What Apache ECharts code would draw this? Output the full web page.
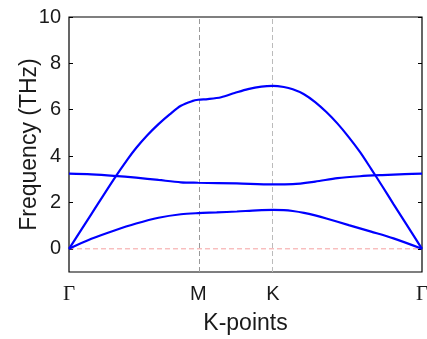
<!DOCTYPE html>
<html>
<head>
<meta charset="utf-8">
<script src="https://cdn.jsdelivr.net/npm/echarts@6/dist/echarts.min.js"></script>
<style>
  html, body { margin: 0; padding: 0; background: #fff; }
  #chart { width: 427px; height: 339px; }
</style>
</head>
<body>
<div id="chart"></div>
<script>
// High-symmetry points along the path
const tickLabels = ['Γ', 'M', 'K', 'Γ'];
const tickPos = [0, 0.5774, 0.9107, 1.5774];
const yTicks = [0, 2, 4, 6, 8, 10];

// Band 1 (lowest acoustic)
const band1K = [0, 0.1, 0.2, 0.3, 0.4, 0.5, 0.5774, 0.66, 0.75, 0.84, 0.9107, 0.96, 1.0, 1.05, 1.10, 1.15, 1.25, 1.35, 1.45, 1.5774];
const band1F = [0, 0.43, 0.78, 1.09, 1.34, 1.49, 1.54, 1.57, 1.61, 1.66, 1.68, 1.67, 1.63, 1.55, 1.44, 1.31, 1.02, 0.74, 0.45, 0];

// Band 2 (highest acoustic)
const band2K = [0, 0.1, 0.2, 0.26, 0.3, 0.35, 0.4, 0.45, 0.5, 0.55, 0.5774, 0.62, 0.68, 0.74, 0.80, 0.86, 0.9107, 0.96, 1.0, 1.05, 1.10, 1.15, 1.20, 1.25, 1.30, 1.35, 1.40, 1.45, 1.50, 1.5774];
const band2F = [0, 1.5, 3.0, 3.84, 4.35, 4.9, 5.38, 5.80, 6.17, 6.37, 6.43, 6.46, 6.54, 6.72, 6.89, 7.00, 7.03, 6.98, 6.88, 6.67, 6.33, 5.90, 5.40, 4.82, 4.18, 3.45, 2.70, 1.93, 1.17, 0];

// Band 3 (flat band)
const band3K = [0, 0.1, 0.2, 0.3, 0.4, 0.5, 0.5774, 0.75, 0.9107, 1.0, 1.1, 1.2, 1.3, 1.4, 1.5, 1.5774];
const band3F = [3.24, 3.21, 3.15, 3.07, 2.97, 2.87, 2.85, 2.82, 2.78, 2.79, 2.90, 3.05, 3.13, 3.18, 3.22, 3.24];

const zip = (a, b) => a.map((v, i) => [v, b[i]]);
const FONT = 'Liberation Sans';
const SERIF = 'Liberation Serif';

function band(name, k, f) {
  return {
    name, type: 'line', data: zip(k, f), showSymbol: false, smooth: 0.3,
    lineStyle: { color: '#0000ff', width: 2.2 }, itemStyle: { color: '#0000ff' }, z: 5, silent: true
  };
}
function vLine(x, color) {
  return {
    type: 'line', data: [], silent: true, z: 1,
    markLine: {
      silent: true, symbol: 'none', label: { show: false }, animation: false,
      lineStyle: { color: color, type: [5, 3], width: 1 },
      data: [{ xAxis: x }]
    }
  };
}

const chart = echarts.init(document.getElementById('chart'), null, { renderer: 'canvas' });
chart.setOption({
  animation: false,
  backgroundColor: '#ffffff',
  grid: {
    left: 69, right: 5, top: 17, bottom: 67, outerBoundsMode: 'none', containLabel: false,
    show: true, borderColor: '#000', borderWidth: 1.2, backgroundColor: 'transparent'
  },
  xAxis: {
    type: 'value', min: tickPos[0], max: tickPos[tickPos.length - 1],
    axisLine: { show: false }, axisTick: { show: false }, splitLine: { show: false },
    axisLabel: {
      customValues: tickPos, margin: 12, fontSize: 21, color: '#1a1a1a', fontFamily: SERIF,
      showMinLabel: true, showMaxLabel: true,
      formatter: function (v) {
        let best = 0;
        tickPos.forEach((p, i) => { if (Math.abs(p - v) < Math.abs(tickPos[best] - v)) best = i; });
        const t = tickLabels[best];
        return t === 'Γ' ? t : '{s|' + t + '}';
      },
      rich: { s: { fontFamily: FONT, fontSize: 20, color: '#1a1a1a' } }
    },
    name: 'K-points', nameLocation: 'middle', nameGap: 40, nameMoveOverlap: false,
    nameTextStyle: { fontSize: 23, color: '#1a1a1a', fontFamily: FONT }
  },
  yAxis: [{
    type: 'value', min: -1, max: 10, position: 'left',
    axisLine: { show: false },
    axisTick: { show: true, inside: true, length: 4, customValues: yTicks, lineStyle: { color: '#000', width: 1 } },
    axisLabel: { customValues: yTicks, fontSize: 20, color: '#1a1a1a', fontFamily: FONT, margin: 8 },
    splitLine: { show: false },
    name: 'Frequency (THz)', nameLocation: 'middle', nameGap: 28, nameRotate: 90, nameMoveOverlap: false,
    nameTextStyle: { fontSize: 23, color: '#1a1a1a', fontFamily: FONT }
  }, {
    type: 'value', min: -1, max: 10, position: 'right',
    axisLine: { show: false },
    axisTick: { show: true, inside: true, length: 4, customValues: yTicks, lineStyle: { color: '#000', width: 1 } },
    axisLabel: { show: false },
    splitLine: { show: false }
  }],
  series: [
    {
      name: 'zero', type: 'line', silent: true, z: 2, showSymbol: false,
      data: [[tickPos[0], 0], [tickPos[tickPos.length - 1], 0]],
      lineStyle: { color: '#f5a0a0', type: [5, 3], width: 1 }, itemStyle: { color: '#f5a0a0' }
    },
    vLine(tickPos[1], '#999999'),
    vLine(tickPos[2], '#bbbbbb'),
    band('band1', band1K, band1F),
    band('band2', band2K, band2F),
    band('band3', band3K, band3F)
  ]
});
</script>
</body>
</html>
